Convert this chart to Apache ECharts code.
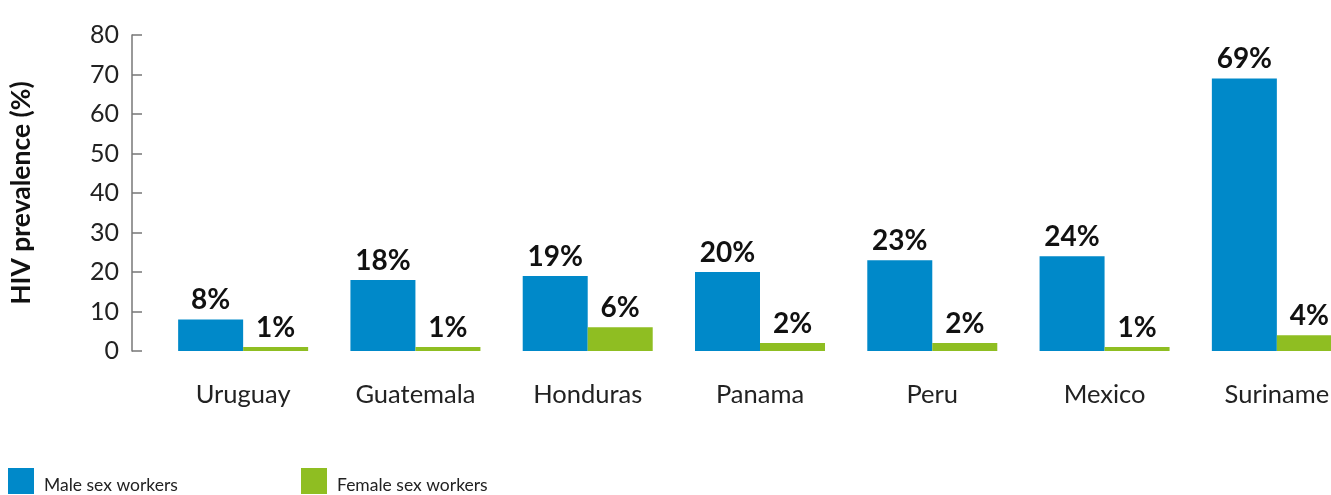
<!DOCTYPE html>
<html><head><meta charset="utf-8">
<script src="https://cdn.jsdelivr.net/npm/echarts@6/dist/echarts.min.js"></script>
<style>html,body{margin:0;padding:0;background:#fff;overflow:hidden}#c{width:1363px;height:495px}</style>
</head><body><div id="c"></div>
<script>
const categories = ['Uruguay','Guatemala','Honduras','Panama','Peru','Mexico','Suriname'];
const maleValues = [8,18,19,20,23,24,69];
const femaleValues = [1,1,6,2,2,1,4];
const yTicks = [0,10,20,30,40,50,60,70,80];
const seriesNames = ['Male sex workers','Female sex workers'];
const FONT = 'Lato';
const chart = echarts.init(document.getElementById('c'));
const lbl = {show:true, position:'top', distance:5, fontFamily:FONT, fontWeight:'bold', fontSize:28, color:'#111', formatter: p => p.value + '%'};
const legText = {fontFamily:FONT, fontSize:17.5, color:'#222', padding:[0,0,0,5],
  rich:{a:{fontFamily:FONT, fontSize:17.5, color:'#222', padding:[8,0,0,0]}}};
const legFmt = name => '{a|' + name + '}';
chart.setOption({
  animation:false,
  legend:[
    {data:[seriesNames[0]], left:8, top:468, padding:0, itemWidth:26, itemHeight:26, icon:'rect', textStyle:legText, formatter:legFmt},
    {data:[seriesNames[1]], left:301, top:468, padding:0, itemWidth:26, itemHeight:26, icon:'rect', textStyle:legText, formatter:legFmt}
  ],
  grid:{left:157, right:0, top:35, bottom:144, containLabel:false},
  xAxis:{type:'category', data:categories, axisLine:{show:false}, axisTick:{show:false},
    axisLabel:{margin:31, fontFamily:FONT, fontSize:25.5, color:'#222'}},
  yAxis:{type:'value', min:0, max:80, interval:10, offset:25,
    name:'HIV prevalence (%)', nameLocation:'middle', nameRotate:90, nameGap:97,
    nameTextStyle:{fontFamily:FONT, fontWeight:'bold', fontSize:26.5, color:'#111'},
    axisLine:{show:true, lineStyle:{color:'#777', width:1.5}},
    axisTick:{show:true, inside:true, length:10, lineStyle:{color:'#777', width:1.5}},
    splitLine:{show:false},
    axisLabel:{margin:13, fontFamily:FONT, fontSize:25, color:'#222', formatter: v => yTicks.includes(v) ? String(v) : ''}},
  series:[
    {name:seriesNames[0], type:'bar', data:maleValues, barWidth:65, barGap:'0%', itemStyle:{color:'#0089C9'}, label:lbl},
    {name:seriesNames[1], type:'bar', data:femaleValues, barWidth:65, barGap:'0%', itemStyle:{color:'#8FBE22'}, label:lbl}
  ]
});
</script></body></html>
